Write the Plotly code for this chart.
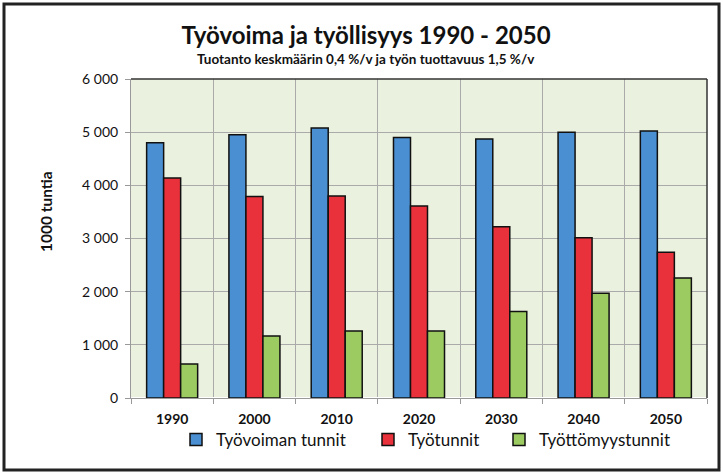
import plotly.graph_objects as go

years = ["1990", "2000", "2010", "2020", "2030", "2040", "2050"]
tyovoima = [4800, 4950, 5080, 4900, 4870, 5000, 5020]
tyotunnit = [4140, 3790, 3800, 3610, 3220, 3015, 2740]
tyottomyys = [640, 1165, 1260, 1260, 1625, 1970, 2255]

series = [
    ("Työvoiman tunnit", tyovoima, "#4A8FD2", "legend"),
    ("Työtunnit", tyotunnit, "#E8313B", "legend2"),
    ("Työttömyystunnit", tyottomyys, "#9CCB62", "legend3"),
]

fig = go.Figure()
for name, vals, col, leg in series:
    fig.add_trace(go.Bar(
        x=years, y=vals, name=name, legend=leg, showlegend=True,
        marker=dict(color=col, line=dict(color="#111111", width=1.5)),
    ))

font_family = "Lato, Open Sans, sans-serif"
W, H = 723, 475
L, R, T, B = 131, 16, 79, 77
pw, ph = W - L - R, H - T - B

def px_x(p):
    return (p - L) / pw

def px_y(p):
    return (H - B - p) / ph

def leg(xpix):
    return dict(
        orientation="h", x=px_x(xpix), xanchor="left",
        yref="container", y=1 - 440 / H, yanchor="middle",
        font=dict(size=17, family=font_family, color="#111111"),
        itemwidth=30, bgcolor="rgba(0,0,0,0)",
    )

fig.update_layout(
    width=W, height=H,
    showlegend=True,
    margin=dict(l=L, r=R, t=T, b=B, autoexpand=False),
    paper_bgcolor="white",
    plot_bgcolor="#EBF1DF",
    separators=", ",
    barmode="group",
    bargap=0.38,
    bargroupgap=0,
    font=dict(family=font_family, color="#111111"),
    title=dict(
        text="<b>Työvoima ja työllisyys 1990 - 2050</b>",
        x=366 / W, xanchor="center", yref="container", y=1 - 36 / H, yanchor="middle",
        font=dict(size=24, family=font_family, color="#111111"),
    ),
    legend=leg(176),
    legend2=leg(368),
    legend3=leg(499),
    xaxis=dict(
        tickson="boundaries", ticks="outside", ticklen=5, tickcolor="#999999",
        ticklabelstandoff=8,
        showgrid=True, gridcolor="#AAAAAA", gridwidth=1,
        showline=True, linecolor="#999999", linewidth=1,
        tickfont=dict(size=14, family=font_family, color="#111111"),
        tickprefix="<b>", ticksuffix="</b>",
    ),
    yaxis=dict(
        range=[0, 6000], dtick=1000, tickformat=",d",
        ticks="outside", ticklen=5, tickcolor="#999999",
        ticklabelstandoff=4,
        showgrid=True, gridcolor="#AAAAAA", gridwidth=1,
        showline=True, linecolor="#999999", linewidth=1,
        tickfont=dict(size=14, family=font_family, color="#111111"),
    ),
    annotations=[
        dict(text="<b>Tuotanto keskmäärin 0,4 %/v ja työn tuottavuus 1,5 %/v</b>",
             xref="paper", yref="paper", x=px_x(366), y=px_y(59),
             xanchor="center", yanchor="middle", showarrow=False,
             font=dict(size=13.5, family=font_family, color="#111111")),
        dict(text="<b>1000 tuntia</b>", textangle=-90,
             xref="paper", yref="paper", x=px_x(46), y=px_y(212),
             xanchor="center", yanchor="middle", showarrow=False,
             font=dict(size=15.5, family=font_family, color="#111111")),
    ],
    shapes=[
        dict(type="line", xref="paper", yref="paper", x0=0, x1=1, y0=1, y1=1,
             line=dict(color="#333333", width=1.5)),
        dict(type="line", xref="paper", yref="paper", x0=1, x1=1, y0=0, y1=1,
             line=dict(color="#333333", width=1.5)),
        dict(type="rect", xref="paper", yref="paper",
             x0=px_x(4), x1=px_x(719), y0=px_y(470), y1=px_y(4),
             line=dict(color="#222222", width=3), layer="below"),
    ],
)

fig.write_html(
    "out.html",
    config={"displayModeBar": False},
    post_script="document.body.style.margin='0';document.body.style.overflow='hidden';",
)
